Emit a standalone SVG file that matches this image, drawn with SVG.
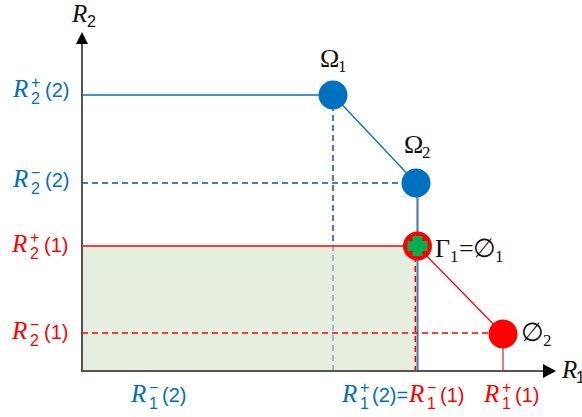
<svg xmlns="http://www.w3.org/2000/svg" width="582" height="417" viewBox="0 0 582 417">
<defs>
<style>
.R{font-family:"Liberation Serif","DejaVu Serif",serif;font-style:italic;font-size:25px}
.s{font-family:"Liberation Sans","DejaVu Sans",sans-serif;font-size:16px}
.p{font-family:"Liberation Sans","DejaVu Sans",sans-serif;font-size:20px}
.g{font-family:"Liberation Serif","DejaVu Serif",serif;font-size:26px;fill:#111}
.gs{font-family:"Liberation Serif","DejaVu Serif",serif;font-size:17px;fill:#111}
.blue{fill:#0070c0}
.red{fill:#ff0000}
.bk{fill:#111}
.bl{stroke:#0070c0;stroke-width:1.3;fill:none}
.bd{stroke:#4a7ea8;stroke-width:2;stroke-dasharray:6 4;fill:none}
.rl{stroke:#ff0000;stroke-width:1.3;fill:none}
.rd{stroke:#ff0000;stroke-width:1.5;stroke-dasharray:6 4;fill:none}
.ax{stroke:#555;stroke-width:2;fill:none}
</style>
</defs>
<rect width="582" height="417" fill="#fff"/>
<g id="connectors">
<line class="bd" x1="333" y1="95" x2="333" y2="370"/>
<rect x="83" y="246" width="333" height="124" fill="#d5e4ca" fill-opacity="0.6"/>
<line class="bl" x1="82" y1="95" x2="333" y2="95"/>
<line class="bl" x1="333" y1="95" x2="416" y2="183"/>
<line class="bd" x1="82" y1="183" x2="416" y2="183"/>
<line x1="417.5" y1="183" x2="417.5" y2="370" stroke="#4f81b0" stroke-width="2.2"/>
<line class="rl" x1="82" y1="246" x2="417" y2="246"/>
<line class="rd" x1="415.3" y1="246" x2="415.3" y2="370"/>
<line class="rl" x1="417" y1="246" x2="503" y2="334"/>
<line class="rd" x1="82" y1="333" x2="503" y2="333"/>
<line x1="503" y1="334" x2="503" y2="370" stroke="#e03030" stroke-width="1.3"/>
</g>
<g id="axes">
<line class="ax" x1="82" y1="371" x2="82" y2="42"/>
<polygon points="82,32 76,44 88,44" fill="#000"/>
<line class="ax" x1="81" y1="371" x2="544" y2="371"/>
<polygon points="556,371 543,364 543,378" fill="#000"/>
<text class="R bk" x="72" y="22">R</text><text class="s bk" x="87" y="27">2</text>
<text class="R bk" x="562" y="378">R</text><text class="s bk" x="576" y="383">1</text>
</g>
<g id="omega1">
<circle cx="333" cy="95" r="14.5" fill="#0070c0"/>
<text class="g" x="320" y="67">Ω</text><text class="gs" x="338" y="72">1</text>
</g>
<g id="omega2">
<circle cx="416" cy="183" r="14.5" fill="#0070c0"/>
<text class="g" x="404" y="153">Ω</text><text class="gs" x="422" y="158">2</text>
</g>
<g id="gamma1">
<circle cx="417.5" cy="246" r="14.5" fill="#ff0000"/>
<path d="M412.5,236 h10 v5 h5 v10 h-5 v5 h-10 v-5 h-5 v-10 h5 z" fill="#00b050"/>
<text class="g" x="435" y="257">Γ</text><text class="gs" x="450" y="262">1</text>
<text class="g" x="459" y="257">=</text>
<text class="g" x="473" y="257">∅</text><text class="gs" x="495" y="262">1</text>
</g>
<g id="phi2">
<circle cx="503" cy="334" r="14.5" fill="#ff0000"/>
<text class="g" x="521" y="341">∅</text><text class="gs" x="543" y="346">2</text>
</g>
<g id="labels-left">
<text class="R blue" x="13" y="97">R</text><text class="s blue" x="31" y="88">+</text><text class="s blue" x="31" y="104">2</text><text class="p blue" x="45" y="97">(2)</text>
<text class="R blue" x="13" y="187">R</text><text class="s blue" x="31" y="178">−</text><text class="s blue" x="31" y="194">2</text><text class="p blue" x="45" y="187">(2)</text>
<text class="R red" x="12" y="252">R</text><text class="s red" x="30" y="243">+</text><text class="s red" x="30" y="259">2</text><text class="p red" x="44" y="252">(1)</text>
<text class="R red" x="12" y="339">R</text><text class="s red" x="30" y="330">−</text><text class="s red" x="30" y="346">2</text><text class="p red" x="44" y="339">(1)</text>
</g>
<g id="labels-bottom">
<text class="R blue" x="131" y="402">R</text><text class="s blue" x="149" y="393">−</text><text class="s blue" x="149" y="409">1</text><text class="p blue" x="162" y="402">(2)</text>
<text class="R blue" x="342" y="402">R</text><text class="s blue" x="360" y="393">+</text><text class="s blue" x="360" y="409">1</text><text class="p blue" x="372" y="402">(2)=</text>
<text class="R red" x="409" y="402">R</text><text class="s red" x="427" y="393">−</text><text class="s red" x="427" y="409">1</text><text class="p red" x="440" y="402">(1)</text>
<text class="R red" x="484" y="402">R</text><text class="s red" x="502" y="393">+</text><text class="s red" x="502" y="409">1</text><text class="p red" x="515" y="402">(1)</text>
</g>
</svg>
